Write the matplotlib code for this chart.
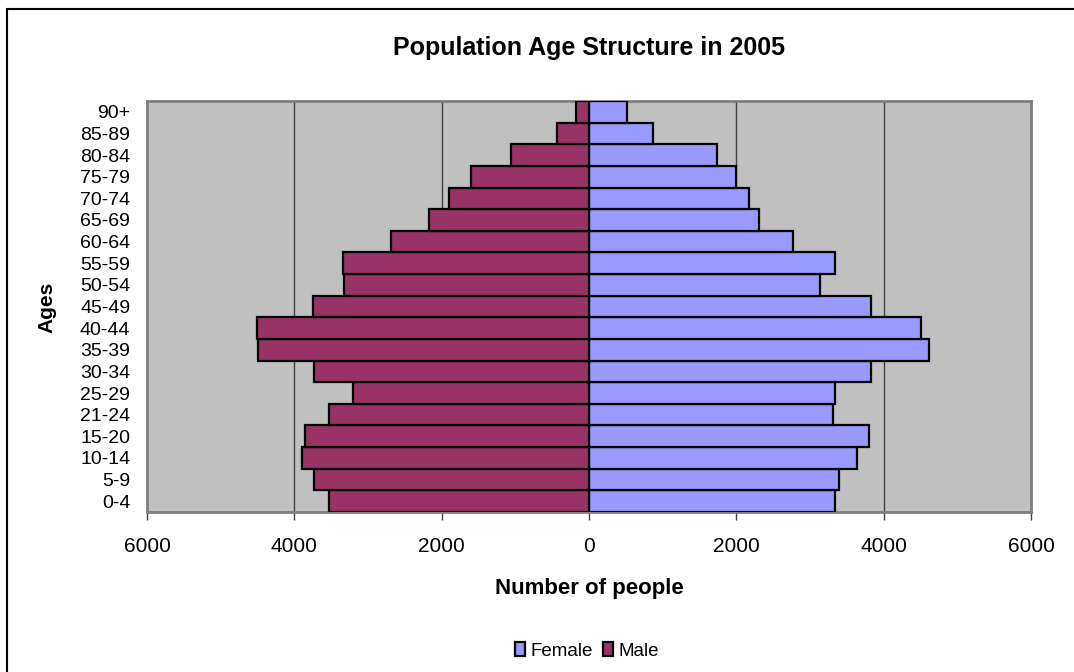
import matplotlib
matplotlib.use("Agg")
import numpy as np
import matplotlib.pyplot as plt
from matplotlib.patches import Rectangle
from matplotlib.ticker import FuncFormatter

plt.rcParams['font.family'] = ['Liberation Sans', 'DejaVu Sans']

ages = ["0-4", "5-9", "10-14", "15-20", "21-24", "25-29", "30-34", "35-39",
        "40-44", "45-49", "50-54", "55-59", "60-64", "65-69", "70-74",
        "75-79", "80-84", "85-89", "90+"]
male = [3530, 3730, 3890, 3860, 3530, 3210, 3730, 4490, 4510, 3750,
        3320, 3340, 2690, 2170, 1900, 1600, 1060, 430, 180]
female = [3340, 3390, 3640, 3800, 3310, 3340, 3830, 4620, 4500, 3830,
          3140, 3340, 2770, 2310, 2170, 2000, 1740, 870, 510]

fig = plt.figure(figsize=(10.74, 6.72), dpi=100)
ax = fig.add_axes([147/1074, 160/672, 884/1074, 411/672])
ax.set_facecolor("#C0C0C0")

y = np.arange(len(ages))
ax.barh(y, female, height=1.0, color="#9999FF", edgecolor="black",
        linewidth=1.6, label="Female", zorder=3)
ax.barh(y, -np.array(male), height=1.0, color="#993366", edgecolor="black",
        linewidth=1.6, label="Male", zorder=3)

ax.set_xlim(-6000, 6000)
ax.set_ylim(-0.5, len(ages) - 0.5)
ax.set_xticks(np.arange(-6000, 6001, 2000))
ax.xaxis.set_major_formatter(FuncFormatter(lambda v, p: f"{abs(int(v))}"))
ax.set_yticks(y)
ax.set_yticklabels(ages)
ax.grid(axis="x", color="#404040", linewidth=1.0, zorder=1)
ax.tick_params(axis="x", length=6, width=1, color="#404040", labelsize=15, pad=12)
ax.tick_params(axis="y", length=0, labelsize=14, pad=12)
for s in ax.spines.values():
    s.set_color("#808080")
    s.set_linewidth(2)

ax.set_xlabel("Number of people", fontsize=16, fontweight="bold", labelpad=16)
fig.text(47/1074, 1 - 307/672, "Ages", rotation=90, ha="center", va="center",
         fontsize=15, fontweight="bold")
fig.text(589/1074, 1 - 48/672, "Population Age Structure in 2005",
         ha="center", va="center", fontsize=18, fontweight="bold")

fig.legend(loc="center", bbox_to_anchor=(587/1074, 1 - 651/672), ncol=2,
           frameon=False, fontsize=13.5, handlelength=0.55, handleheight=0.75,
           handletextpad=0.3, columnspacing=0.5)

# outer chart frame
fig.patches.append(Rectangle((7/1074, -0.1), 2, 1 - 9/672 + 0.1,
                             transform=fig.transFigure, fill=False,
                             edgecolor="black", linewidth=1.5))

fig.savefig("out.png", dpi=100)
